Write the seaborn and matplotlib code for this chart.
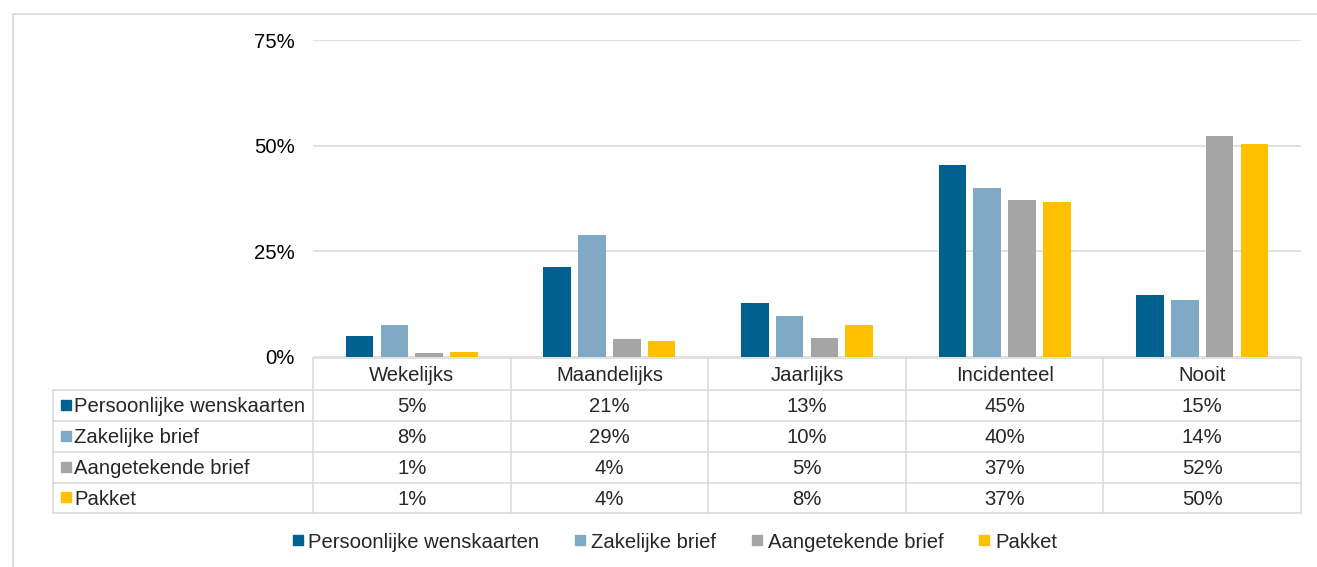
import pandas as pd
import matplotlib
matplotlib.use("Agg")
import matplotlib.pyplot as plt
import seaborn as sns
from matplotlib.lines import Line2D
from matplotlib.ticker import FuncFormatter

# Data (percentages)
categorieen = ["Wekelijks", "Maandelijks", "Jaarlijks", "Incidenteel", "Nooit"]
reeksen = ["Persoonlijke wenskaarten", "Zakelijke brief", "Aangetekende brief", "Pakket"]
persoonlijk = [5.0, 21.3, 12.8, 45.4, 14.6]
zakelijk = [7.6, 28.9, 9.6, 40.0, 13.6]
aangetekend = [1.0, 4.3, 4.6, 37.1, 52.4]
pakket = [1.1, 3.9, 7.6, 36.6, 50.5]
y_ticks = [0, 25, 50, 75]
kleuren = ["#00618F", "#7FA9C5", "#A5A5A5", "#FFC000"]

waarden = [persoonlijk, zakelijk, aangetekend, pakket]
df = pd.DataFrame(
    [(c, s, v) for s, vals in zip(reeksen, waarden) for c, v in zip(categorieen, vals)],
    columns=["categorie", "reeks", "waarde"],
)

sns.set_theme(style="white")
plt.rcParams["font.family"] = ["Liberation Sans", "DejaVu Sans"]
fs = 14.6
lijn = "#D9D9D9"

W, H = 1317, 567
fig = plt.figure(figsize=(W / 100, H / 100), dpi=100)

# overlay in pixel coordinates for frame and data table
bg = fig.add_axes([0, 0, 1, 1], zorder=0)
bg.set_xlim(0, W)
bg.set_ylim(H, 0)
bg.axis("off")

x0, x1 = 313, 1301
ax = fig.add_axes([x0 / W, (H - 357) / H, (x1 - x0) / W, 317 / H], zorder=1)
ax.patch.set_alpha(0)
sns.barplot(data=df, x="categorie", y="waarde", hue="reeks", order=categorieen,
            hue_order=reeksen, palette=kleuren, width=0.705, gap=0.21,
            linewidth=0, saturation=1, ax=ax, legend=False)
ax.set_ylim(0, 75)
ax.set_xlim(-0.5, len(categorieen) - 0.5)
ax.set_yticks(y_ticks)
ax.yaxis.set_major_formatter(FuncFormatter(lambda v, p: f"{v:.0f}%"))
ax.tick_params(axis="y", length=0, pad=13, labelsize=fs, colors="#000000")
ax.set_xticks([])
ax.set_xlabel("")
ax.set_ylabel("")
ax.grid(axis="y", color=lijn, linewidth=1.1)
ax.set_axisbelow(True)
for sp in ax.spines.values():
    sp.set_visible(False)

# outer frame
bg.plot([13, W], [14, 14], color=lijn, lw=1.2)
bg.plot([13, 13], [14, H], color=lijn, lw=1.2)

# data table
kolom = (x1 - x0) / len(categorieen)
kol_x = [x0 + i * kolom for i in range(len(categorieen) + 1)]
rij_y = [390, 420.5, 451.5, 482.5, 513]
lw = 1.1
cap = 0.716 * fs * 100 / 72 / 2  # half cap height in px
bg.plot([x0, x1], [358, 358], color=lijn, lw=lw)
for y in rij_y:
    bg.plot([53, x1], [y, y], color=lijn, lw=lw)
for x in kol_x:
    bg.plot([x, x], [358, 513], color=lijn, lw=lw)
bg.plot([53, 53], [390, 513], color=lijn, lw=lw)

for i, c in enumerate(categorieen):
    bg.text((kol_x[i] + kol_x[i + 1]) / 2, 373.5 + cap, c, ha="center", va="baseline",
            fontsize=fs)
for r, (s, vals, kl) in enumerate(zip(reeksen, waarden, kleuren)):
    yc = (rij_y[r] + rij_y[r + 1]) / 2 - 0.5
    bg.plot(65.5, yc, marker="s", markersize=6.5, color=kl, linestyle="none")
    bg.text(74, yc + cap, s, ha="left", va="baseline", fontsize=fs)
    for i, v in enumerate(vals):
        bg.text((kol_x[i] + kol_x[i + 1]) / 2, yc + cap, f"{round(v)}%",
                ha="center", va="baseline", fontsize=fs)

# legend
handles = [Line2D([0], [0], marker="s", color=k, linestyle="none", markersize=6.5)
           for k in kleuren]
fig.legend(handles, reeksen, loc="center", bbox_to_anchor=(675 / W, 1 - 542 / H),
           ncol=4, frameon=False, fontsize=fs, handlelength=0.45, handletextpad=0.3,
           columnspacing=1.8, borderaxespad=0)

fig.savefig("out.png", dpi=100, facecolor="white")
